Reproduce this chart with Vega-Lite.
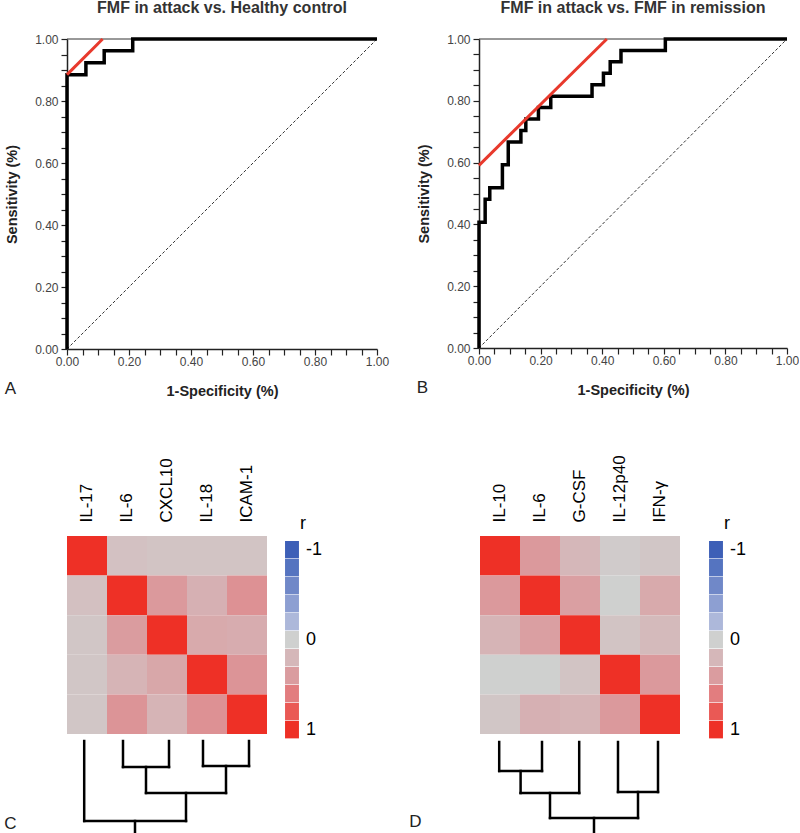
{
  "$schema": "https://vega.github.io/schema/vega-lite/v6.json",
  "padding": {"left": 3, "top": 0, "right": 0, "bottom": 0},
  "config": {
    "font": "Liberation Sans",
    "view": {"stroke": null},
    "legend": {"padding": 0}
  },
  "datasets": {
    "diag": [{"fpr": 0, "tpr": 0}, {"fpr": 1, "tpr": 1}],
    "topline": [{"fpr": 0, "fpr2": 1, "tpr": 1}],
    "rocA": [
      {"fpr": 0, "tpr": 0}, {"fpr": 0, "tpr": 0.885}, {"fpr": 0.061, "tpr": 0.923},
      {"fpr": 0.12, "tpr": 0.962}, {"fpr": 0.212, "tpr": 1}, {"fpr": 1, "tpr": 1}
    ],
    "cutA": [{"fpr": 0, "tpr": 0.885}, {"fpr": 0.115, "tpr": 1}],
    "rocB": [
      {"fpr": 0, "tpr": 0}, {"fpr": 0, "tpr": 0.407}, {"fpr": 0.02, "tpr": 0.481},
      {"fpr": 0.035, "tpr": 0.519}, {"fpr": 0.076, "tpr": 0.593}, {"fpr": 0.095, "tpr": 0.667},
      {"fpr": 0.136, "tpr": 0.704}, {"fpr": 0.152, "tpr": 0.741}, {"fpr": 0.193, "tpr": 0.778},
      {"fpr": 0.233, "tpr": 0.815}, {"fpr": 0.367, "tpr": 0.852}, {"fpr": 0.404, "tpr": 0.889},
      {"fpr": 0.426, "tpr": 0.926}, {"fpr": 0.461, "tpr": 0.963}, {"fpr": 0.605, "tpr": 1},
      {"fpr": 1, "tpr": 1}
    ],
    "cutB": [{"fpr": 0, "tpr": 0.591}, {"fpr": 0.415, "tpr": 1}],
    "heatC": [
      {"row": "IL-17", "col": "IL-17", "r": 1}, {"row": "IL-17", "col": "IL-6", "r": 0.12}, {"row": "IL-17", "col": "CXCL10", "r": 0.1}, {"row": "IL-17", "col": "IL-18", "r": 0.1}, {"row": "IL-17", "col": "ICAM-1", "r": 0.1},
      {"row": "IL-6", "col": "IL-17", "r": 0.13}, {"row": "IL-6", "col": "IL-6", "r": 1}, {"row": "IL-6", "col": "CXCL10", "r": 0.42}, {"row": "IL-6", "col": "IL-18", "r": 0.25}, {"row": "IL-6", "col": "ICAM-1", "r": 0.47},
      {"row": "CXCL10", "col": "IL-17", "r": 0.08}, {"row": "CXCL10", "col": "IL-6", "r": 0.4}, {"row": "CXCL10", "col": "CXCL10", "r": 1}, {"row": "CXCL10", "col": "IL-18", "r": 0.3}, {"row": "CXCL10", "col": "ICAM-1", "r": 0.28},
      {"row": "IL-18", "col": "IL-17", "r": 0.08}, {"row": "IL-18", "col": "IL-6", "r": 0.22}, {"row": "IL-18", "col": "CXCL10", "r": 0.32}, {"row": "IL-18", "col": "IL-18", "r": 1}, {"row": "IL-18", "col": "ICAM-1", "r": 0.45},
      {"row": "ICAM-1", "col": "IL-17", "r": 0.08}, {"row": "ICAM-1", "col": "IL-6", "r": 0.45}, {"row": "ICAM-1", "col": "CXCL10", "r": 0.22}, {"row": "ICAM-1", "col": "IL-18", "r": 0.47}, {"row": "ICAM-1", "col": "ICAM-1", "r": 1}
    ],
    "heatD": [
      {"row": "IL-10", "col": "IL-10", "r": 1}, {"row": "IL-10", "col": "IL-6", "r": 0.42}, {"row": "IL-10", "col": "G-CSF", "r": 0.2}, {"row": "IL-10", "col": "IL-12p40", "r": 0.04}, {"row": "IL-10", "col": "IFN-γ", "r": 0.08},
      {"row": "IL-6", "col": "IL-10", "r": 0.42}, {"row": "IL-6", "col": "IL-6", "r": 1}, {"row": "IL-6", "col": "G-CSF", "r": 0.38}, {"row": "IL-6", "col": "IL-12p40", "r": 0}, {"row": "IL-6", "col": "IFN-γ", "r": 0.3},
      {"row": "G-CSF", "col": "IL-10", "r": 0.22}, {"row": "G-CSF", "col": "IL-6", "r": 0.38}, {"row": "G-CSF", "col": "G-CSF", "r": 1}, {"row": "G-CSF", "col": "IL-12p40", "r": 0.1}, {"row": "G-CSF", "col": "IFN-γ", "r": 0.18},
      {"row": "IL-12p40", "col": "IL-10", "r": 0}, {"row": "IL-12p40", "col": "IL-6", "r": 0}, {"row": "IL-12p40", "col": "G-CSF", "r": 0.1}, {"row": "IL-12p40", "col": "IL-12p40", "r": 1}, {"row": "IL-12p40", "col": "IFN-γ", "r": 0.42},
      {"row": "IFN-γ", "col": "IL-10", "r": 0.08}, {"row": "IFN-γ", "col": "IL-6", "r": 0.25}, {"row": "IFN-γ", "col": "G-CSF", "r": 0.22}, {"row": "IFN-γ", "col": "IL-12p40", "r": 0.42}, {"row": "IFN-γ", "col": "IFN-γ", "r": 1}
    ],
    "dendC": [
      {"x": 0.43, "x2": 0.43, "y": 0, "y2": 80},
      {"x": 1.4, "x2": 1.4, "y": 0, "y2": 26},
      {"x": 2.55, "x2": 2.55, "y": 0, "y2": 26},
      {"x": 1.4, "x2": 2.55, "y": 26, "y2": 26},
      {"x": 3.4, "x2": 3.4, "y": 0, "y2": 25},
      {"x": 4.55, "x2": 4.55, "y": 0, "y2": 25},
      {"x": 3.4, "x2": 4.55, "y": 25, "y2": 25},
      {"x": 1.975, "x2": 1.975, "y": 26, "y2": 52},
      {"x": 3.975, "x2": 3.975, "y": 25, "y2": 52},
      {"x": 1.975, "x2": 3.975, "y": 52, "y2": 52},
      {"x": 2.975, "x2": 2.975, "y": 52, "y2": 80},
      {"x": 0.43, "x2": 2.975, "y": 80, "y2": 80},
      {"x": 1.7, "x2": 1.7, "y": 80, "y2": 94}
    ],
    "dendD": [
      {"x": 0.48, "x2": 0.48, "y": 3, "y2": 32},
      {"x": 1.55, "x2": 1.55, "y": 3, "y2": 32},
      {"x": 0.48, "x2": 1.55, "y": 32, "y2": 32},
      {"x": 1.015, "x2": 1.015, "y": 32, "y2": 54},
      {"x": 2.48, "x2": 2.48, "y": 3, "y2": 54},
      {"x": 1.015, "x2": 2.48, "y": 54, "y2": 54},
      {"x": 3.45, "x2": 3.45, "y": 3, "y2": 53},
      {"x": 4.45, "x2": 4.45, "y": 3, "y2": 53},
      {"x": 3.45, "x2": 4.45, "y": 53, "y2": 53},
      {"x": 1.75, "x2": 1.75, "y": 54, "y2": 79},
      {"x": 3.95, "x2": 3.95, "y": 53, "y2": 79},
      {"x": 1.75, "x2": 3.95, "y": 79, "y2": 79},
      {"x": 2.85, "x2": 2.85, "y": 79, "y2": 94}
    ]
  },
  "columns": 1,
  "align": "none",
  "spacing": 56,
  "concat": [
    {
      "spacing": 27,
      "hconcat": [
        {
          "title": {"text": "A", "orient": "bottom", "anchor": "start", "frame": "bounds", "fontSize": 17, "fontWeight": "normal", "color": "#222", "offset": 0, "dy": -17},
          "vconcat": [
            {
              "width": 310, "height": 310,
              "title": {"text": "FMF in attack vs. Healthy control", "frame": "group", "anchor": "middle", "fontSize": 16, "fontWeight": "bold", "color": "#333", "offset": 16},
              "encoding": {
                "x": {"field": "fpr", "type": "quantitative", "scale": {"domain": [0, 1], "nice": false},
                  "axis": {"title": "1-Specificity (%)", "values": [0, 0.05, 0.1, 0.15, 0.2, 0.25, 0.3, 0.35, 0.4, 0.45, 0.5, 0.55, 0.6, 0.65, 0.7, 0.75, 0.8, 0.85, 0.9, 0.95, 1], "labelExpr": "abs(datum.value*5-round(datum.value*5))<0.001 ? format(datum.value,'.2f') : ''", "labelOverlap": false, "labelFlush": false, "labelBound": false, "grid": false, "tickSize": 6, "tickWidth": 1.2, "tickColor": "#222", "domainColor": "#222", "domainWidth": 1.5, "labelFontSize": 12, "labelColor": "#444", "labelPadding": 1, "titleFontSize": 14.5, "titleFontWeight": "bold", "titleColor": "#222", "titlePadding": 17}},
                "y": {"field": "tpr", "type": "quantitative", "scale": {"domain": [0, 1], "nice": false},
                  "axis": {"title": "Sensitivity (%)", "values": [0, 0.05, 0.1, 0.15, 0.2, 0.25, 0.3, 0.35, 0.4, 0.45, 0.5, 0.55, 0.6, 0.65, 0.7, 0.75, 0.8, 0.85, 0.9, 0.95, 1], "labelExpr": "abs(datum.value*5-round(datum.value*5))<0.001 ? format(datum.value,'.2f') : ''", "labelOverlap": false, "labelFlush": false, "labelBound": false, "grid": false, "tickSize": 6, "tickWidth": 1.2, "tickColor": "#222", "domainColor": "#222", "domainWidth": 1.5, "labelFontSize": 12, "labelColor": "#444", "labelPadding": 3, "titleFontSize": 14.5, "titleFontWeight": "bold", "titleColor": "#222", "titlePadding": 15}}
              },
              "layer": [
                {"data": {"name": "diag"}, "mark": {"type": "line", "strokeDash": [3, 2], "strokeWidth": 1, "color": "#333"}},
                {"data": {"name": "topline"}, "mark": {"type": "rule", "strokeWidth": 1, "color": "#333"}, "encoding": {"x2": {"field": "fpr2"}}},
                {"data": {"name": "rocA"}, "mark": {"type": "line", "interpolate": "step-after", "strokeWidth": 3.5, "color": "black"}, "encoding": {"order": [{"field": "fpr"}, {"field": "tpr"}]}},
                {"data": {"name": "cutA"}, "mark": {"type": "line", "strokeWidth": 3, "color": "#e8392c"}}
              ]
            }
          ]
        },
        {
          "title": {"text": "B", "orient": "bottom", "anchor": "start", "frame": "bounds", "fontSize": 17, "fontWeight": "normal", "color": "#222", "offset": 0, "dy": -17},
          "vconcat": [
            {
              "width": 308, "height": 309,
              "title": {"text": "FMF in attack vs. FMF in remission", "frame": "group", "anchor": "middle", "fontSize": 16, "fontWeight": "bold", "color": "#333", "offset": 16},
              "encoding": {
                "x": {"field": "fpr", "type": "quantitative", "scale": {"domain": [0, 1], "nice": false},
                  "axis": {"title": "1-Specificity (%)", "values": [0, 0.05, 0.1, 0.15, 0.2, 0.25, 0.3, 0.35, 0.4, 0.45, 0.5, 0.55, 0.6, 0.65, 0.7, 0.75, 0.8, 0.85, 0.9, 0.95, 1], "labelExpr": "abs(datum.value*5-round(datum.value*5))<0.001 ? format(datum.value,'.2f') : ''", "labelOverlap": false, "labelFlush": false, "labelBound": false, "grid": false, "tickSize": 6, "tickWidth": 1.2, "tickColor": "#222", "domainColor": "#222", "domainWidth": 1.5, "labelFontSize": 12, "labelColor": "#444", "labelPadding": 1, "titleFontSize": 14.5, "titleFontWeight": "bold", "titleColor": "#222", "titlePadding": 17}},
                "y": {"field": "tpr", "type": "quantitative", "scale": {"domain": [0, 1], "nice": false},
                  "axis": {"title": "Sensitivity (%)", "values": [0, 0.05, 0.1, 0.15, 0.2, 0.25, 0.3, 0.35, 0.4, 0.45, 0.5, 0.55, 0.6, 0.65, 0.7, 0.75, 0.8, 0.85, 0.9, 0.95, 1], "labelExpr": "abs(datum.value*5-round(datum.value*5))<0.001 ? format(datum.value,'.2f') : ''", "labelOverlap": false, "labelFlush": false, "labelBound": false, "grid": false, "tickSize": 6, "tickWidth": 1.2, "tickColor": "#222", "domainColor": "#222", "domainWidth": 1.5, "labelFontSize": 12, "labelColor": "#444", "labelPadding": 3, "titleFontSize": 14.5, "titleFontWeight": "bold", "titleColor": "#222", "titlePadding": 15}}
              },
              "layer": [
                {"data": {"name": "diag"}, "mark": {"type": "line", "strokeDash": [3, 2], "strokeWidth": 1, "color": "#333"}},
                {"data": {"name": "topline"}, "mark": {"type": "rule", "strokeWidth": 1, "color": "#333"}, "encoding": {"x2": {"field": "fpr2"}}},
                {"data": {"name": "rocB"}, "mark": {"type": "line", "interpolate": "step-after", "strokeWidth": 3.5, "color": "black"}, "encoding": {"order": [{"field": "fpr"}, {"field": "tpr"}]}},
                {"data": {"name": "cutB"}, "mark": {"type": "line", "strokeWidth": 3, "color": "#e8392c"}}
              ]
            }
          ]
        }
      ]
    },
    {
      "spacing": 85,
      "resolve": {"scale": {"color": "independent"}, "legend": {"color": "independent"}},
      "hconcat": [
        {
          "spacing": 5,
          "vconcat": [
            {
              "data": {"name": "heatC"},
              "width": 200, "height": 198,
              "mark": {"type": "rect"},
              "encoding": {
                "x": {"field": "col", "type": "nominal", "sort": ["IL-17", "IL-6", "CXCL10", "IL-18", "ICAM-1"], "scale": {"paddingInner": 0, "paddingOuter": 0},
                  "axis": {"orient": "top", "title": null, "labelAngle": -90, "ticks": false, "domain": false, "labelPadding": 14, "labelFontSize": 17, "labelColor": "black"}},
                "y": {"field": "row", "type": "nominal", "sort": ["IL-17", "IL-6", "CXCL10", "IL-18", "ICAM-1"], "scale": {"paddingInner": 0, "paddingOuter": 0}, "axis": null},
                "color": {"field": "r", "type": "quantitative",
                  "scale": {"domain": [-1, -0.8, -0.6, -0.4, -0.2, 0, 0.2, 0.4, 0.6, 0.8, 1], "range": ["#3d5fb7", "#5574c0", "#7088c8", "#8d9fd2", "#adb8da", "#cfd0cf", "#d5b7b9", "#da9c9f", "#e27d7f", "#ea5955", "#ee3026"], "interpolate": "rgb"},
                  "legend": {"type": "symbol", "orient": "none", "legendX": 216, "legendY": -21, "title": "r", "titleFontSize": 18, "titleFontWeight": "normal", "titleColor": "black", "titleAnchor": "middle", "titlePadding": 8, "values": [-1, -0.8, -0.6, -0.4, -0.2, 0, 0.2, 0.4, 0.6, 0.8, 1], "symbolType": "M-0.8,-1H0.8V1H-0.8Z", "symbolSize": 303, "symbolStrokeWidth": 0, "symbolOpacity": 1, "rowPadding": -3.2, "clipHeight": 17.4, "labelExpr": "datum.value == -1 ? '-1' : (datum.value == 0 ? '0' : (datum.value == 1 ? '1' : ''))", "labelFontSize": 18, "labelColor": "black", "labelOffset": 5}}
              }
            },
            {
              "data": {"name": "dendC"},
              "width": 200, "height": 94,
              "mark": {"type": "rule", "strokeWidth": 2.5, "color": "black", "strokeCap": "square"},
              "encoding": {
                "x": {"field": "x", "type": "quantitative", "scale": {"domain": [0, 5]}, "axis": null},
                "x2": {"field": "x2"},
                "y": {"field": "y", "type": "quantitative", "scale": {"domain": [0, 94], "reverse": true},
                  "axis": {"title": "C", "domain": false, "ticks": false, "labels": false, "grid": false, "titleAngle": 0, "titleX": -57, "titleY": 82, "titleAlign": "center", "titleBaseline": "middle", "titleFontSize": 17, "titleFontWeight": "normal", "titleColor": "#222"}},
                "y2": {"field": "y2"}
              }
            }
          ]
        },
        {
          "spacing": 5,
          "vconcat": [
            {
              "data": {"name": "heatD"},
              "width": 200, "height": 198,
              "mark": {"type": "rect"},
              "encoding": {
                "x": {"field": "col", "type": "nominal", "sort": ["IL-10", "IL-6", "G-CSF", "IL-12p40", "IFN-γ"], "scale": {"paddingInner": 0, "paddingOuter": 0},
                  "axis": {"orient": "top", "title": null, "labelAngle": -90, "ticks": false, "domain": false, "labelPadding": 14, "labelFontSize": 17, "labelColor": "black"}},
                "y": {"field": "row", "type": "nominal", "sort": ["IL-10", "IL-6", "G-CSF", "IL-12p40", "IFN-γ"], "scale": {"paddingInner": 0, "paddingOuter": 0}, "axis": null},
                "color": {"field": "r", "type": "quantitative",
                  "scale": {"domain": [-1, -0.8, -0.6, -0.4, -0.2, 0, 0.2, 0.4, 0.6, 0.8, 1], "range": ["#3d5fb7", "#5574c0", "#7088c8", "#8d9fd2", "#adb8da", "#cfd0cf", "#d5b7b9", "#da9c9f", "#e27d7f", "#ea5955", "#ee3026"], "interpolate": "rgb"},
                  "legend": {"type": "symbol", "orient": "none", "legendX": 227, "legendY": -21, "title": "r", "titleFontSize": 18, "titleFontWeight": "normal", "titleColor": "black", "titleAnchor": "middle", "titlePadding": 8, "values": [-1, -0.8, -0.6, -0.4, -0.2, 0, 0.2, 0.4, 0.6, 0.8, 1], "symbolType": "M-0.8,-1H0.8V1H-0.8Z", "symbolSize": 303, "symbolStrokeWidth": 0, "symbolOpacity": 1, "rowPadding": -3.2, "clipHeight": 17.4, "labelExpr": "datum.value == -1 ? '-1' : (datum.value == 0 ? '0' : (datum.value == 1 ? '1' : ''))", "labelFontSize": 18, "labelColor": "black", "labelOffset": 5}}
              }
            },
            {
              "data": {"name": "dendD"},
              "width": 200, "height": 94,
              "mark": {"type": "rule", "strokeWidth": 2.5, "color": "black", "strokeCap": "square"},
              "encoding": {
                "x": {"field": "x", "type": "quantitative", "scale": {"domain": [0, 5]}, "axis": null},
                "x2": {"field": "x2"},
                "y": {"field": "y", "type": "quantitative", "scale": {"domain": [0, 94], "reverse": true},
                  "axis": {"title": "D", "domain": false, "ticks": false, "labels": false, "grid": false, "titleAngle": 0, "titleX": -65, "titleY": 82, "titleAlign": "center", "titleBaseline": "middle", "titleFontSize": 17, "titleFontWeight": "normal", "titleColor": "#222"}},
                "y2": {"field": "y2"}
              }
            }
          ]
        }
      ]
    }
  ]
}
